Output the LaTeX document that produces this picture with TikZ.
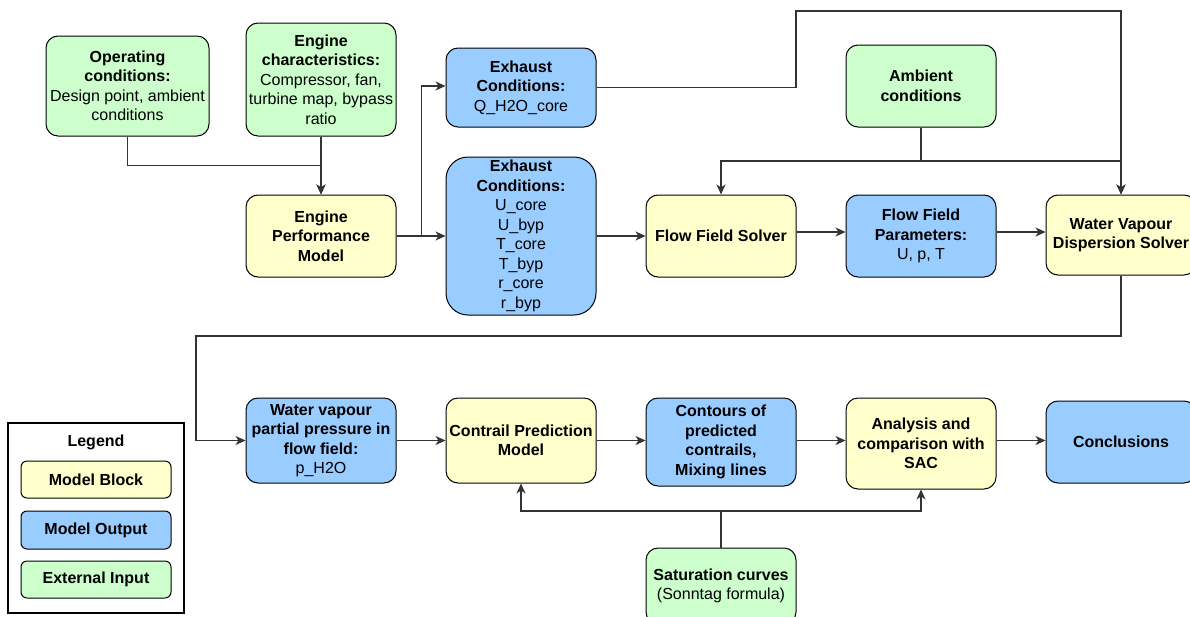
\documentclass[tikz,border=0pt]{standalone}
\usepackage{fontspec}
\setmainfont{Liberation Sans}
\usetikzlibrary{arrows.meta}
\definecolor{yb}{HTML}{FFFFCC}
\definecolor{bb}{HTML}{99CCFF}
\definecolor{gb}{HTML}{CCFFCC}
\definecolor{lc}{HTML}{333333}
\tikzset{
  box/.style={draw=black, line width=1pt, rounded corners=12pt, inner sep=0pt, align=center,
    font=\fontsize{16}{19.5}\selectfont, minimum width=150pt},
  ybox/.style={box, fill=yb},
  bbox/.style={box, fill=bb},
  gbox/.style={box, fill=gb},
  ln/.style={draw=lc, line width=1.2pt},
  arr/.style={ln, -{Stealth[length=10pt,width=9pt,inset=3pt]}},
}
\begin{document}
\begin{tikzpicture}[x=1pt,y=-1pt]
\useasboundingbox (0,0) rectangle (1190,616);
\begin{scope}
\clip (0,0) rectangle (1190,616);
% top-left inputs
\node[gbox, minimum width=163pt, minimum height=100pt] (op) at (127.5,86)
  {\textbf{Operating}\\\textbf{conditions:}\\Design point, ambient\\conditions};
\node[gbox, minimum height=113pt] (ec) at (321,79.5)
  {\textbf{Engine}\\\textbf{characteristics:}\\Compressor, fan,\\turbine map, bypass\\ratio};
\node[ybox, minimum height=82pt] (epm) at (321,236)
  {\textbf{Engine}\\\textbf{Performance}\\\textbf{Model}};
\node[bbox, minimum height=79pt] (ex1) at (521,87.5)
  {\textbf{Exhaust}\\\textbf{Conditions:}\\Q\_H2O\_core};
\node[bbox, rounded corners=22pt, minimum height=158pt] (ex2) at (521,236)
  {\textbf{Exhaust}\\\textbf{Conditions:}\\U\_core\\U\_byp\\T\_core\\T\_byp\\r\_core\\r\_byp};
\node[ybox, minimum height=82pt] (ffs) at (721,236) {\textbf{Flow Field Solver}};
\node[gbox, minimum height=82pt] (amb) at (921,86) {\textbf{Ambient}\\\textbf{conditions}};
\node[bbox, minimum height=82pt] (ffp) at (921,236)
  {\textbf{Flow Field}\\\textbf{Parameters:}\\U, p, T};
\node[ybox, minimum height=80pt] (wvds) at (1121,235)
  {\textbf{Water Vapour}\\\textbf{Dispersion Solver}};
% bottom row
\node[bbox, minimum height=85pt] (wvp) at (321,440.5)
  {\textbf{Water vapour}\\\textbf{partial pressure in}\\\textbf{flow field:}\\p\_H2O};
\node[ybox, minimum height=85pt] (cpm) at (521,440.5)
  {\textbf{Contrail Prediction}\\\textbf{Model}};
\node[bbox, minimum height=88pt] (cont) at (721,442)
  {\textbf{Contours of}\\\textbf{predicted}\\\textbf{contrails,}\\\textbf{Mixing lines}};
\node[ybox, minimum height=91pt] (ana) at (921,443.5)
  {\textbf{Analysis and}\\\textbf{comparison with}\\\textbf{SAC}};
\node[bbox, minimum height=82pt] (conc) at (1121,442) {\textbf{Conclusions}};
\node[gbox, minimum height=76pt] (sat) at (721,586)
  {\textbf{Saturation curves}\\(Sonntag formula)};
% legend
\node[draw=black, line width=1.2pt, minimum width=176pt, minimum height=190pt, inner sep=0pt] (leg) at (96,518) {};
\node[font=\fontsize{16}{19.5}\selectfont\bfseries, inner sep=0pt] (legt) at (96,442) {Legend};
\node[ybox, rounded corners=6pt, minimum height=37pt] (l1) at (96,479.5) {\textbf{Model Block}};
\node[bbox, rounded corners=6pt, minimum height=38pt] (l2) at (96,530) {\textbf{Model Output}};
\node[gbox, rounded corners=6pt, minimum height=37pt] (l3) at (96,579.5) {\textbf{External Input}};
% connectors
\draw[arr] (op.south) -- ++(0,29) -| (epm.north);
\draw[arr] (ec.south) -- (epm.north);
\draw[arr] (epm.east) -- ++(25,0) |- ([yshift=1.5pt]ex1.west);
\draw[arr] (epm.east) -- (ex2.west);
\coordinate (t1) at (796,11);
\draw[arr] (ex1.east) -| (t1) -| (wvds.north);
\coordinate (a1) at (921,161);
\draw[arr] (amb.south) -- (a1) -| (ffs.north);
\draw[arr] (amb.south) -- (a1) -| (wvds.north);
\draw[arr] (ex2.east) -- (ffs.west);
\draw[arr] ([yshift=4pt]ffs.east) -- ([yshift=4pt]ffp.west);
\draw[arr] ([yshift=4pt]ffp.east) -- ([yshift=3pt]wvds.west);
\coordinate (b1) at (196,336);
\draw[arr] (wvds.south) |- (b1) |- (wvp.west);
\draw[arr] (wvp.east) -- (cpm.west);
\draw[arr] (cpm.east) -- (cont.west |- cpm.east);
\draw[arr] (cont.east |- cpm.east) -- (ana.west |- cpm.east);
\draw[arr] (ana.east |- cpm.east) -- (conc.west |- cpm.east);
\coordinate (s1) at (721,511);
\draw[arr] (sat.north) -- (s1) -| (cpm.south);
\draw[arr] (sat.north) -- (s1) -| (ana.south);
\end{scope}
\end{tikzpicture}
\end{document}
